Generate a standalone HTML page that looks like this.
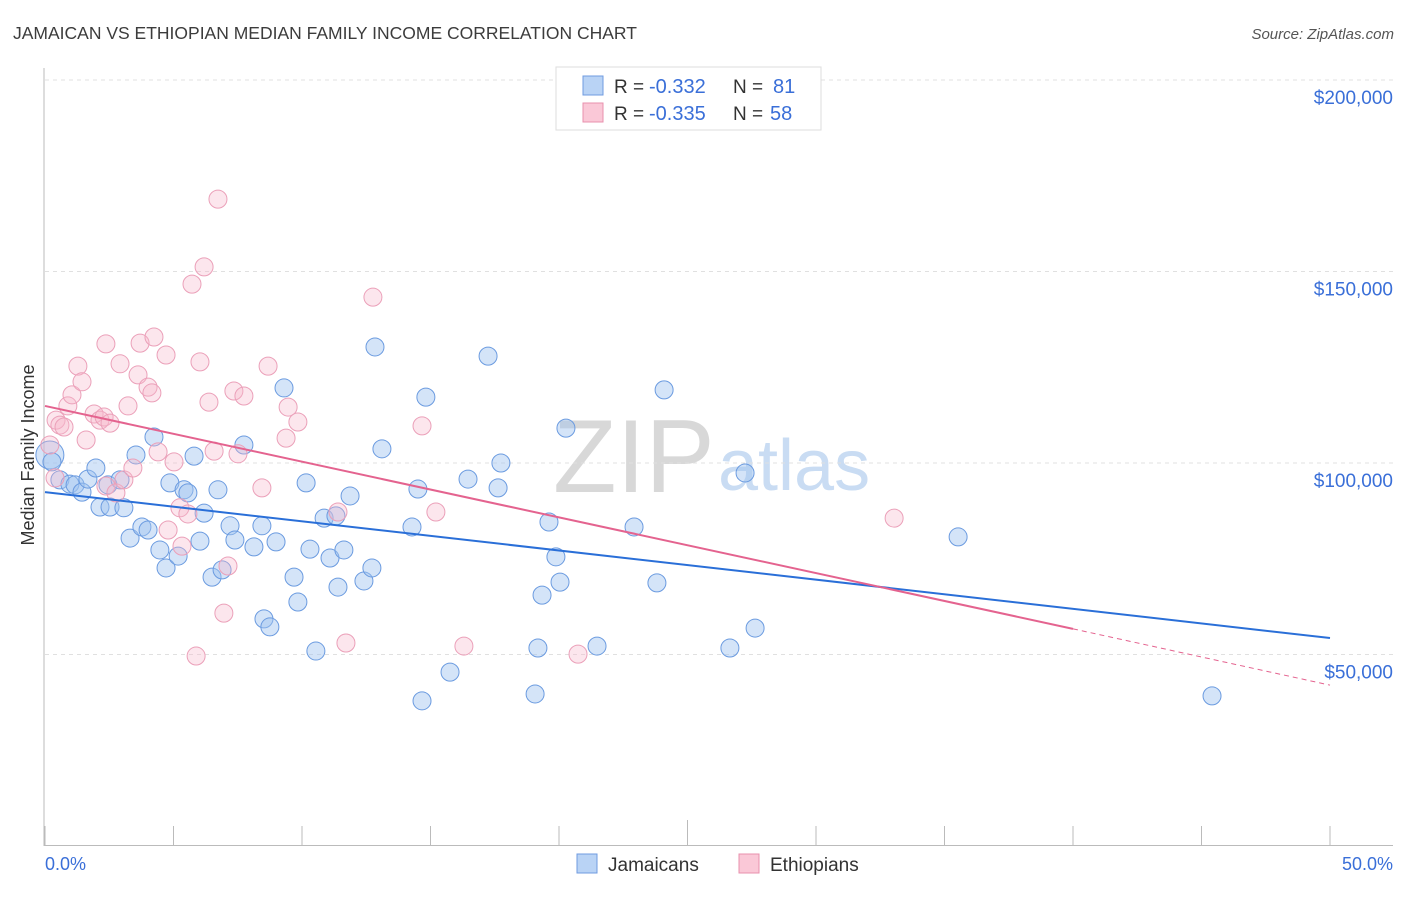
<!DOCTYPE html>
<html><head><meta charset="utf-8"><style>
body{margin:0;background:#fff;font-family:"Liberation Sans",sans-serif}
svg text{font-family:"Liberation Sans",sans-serif}
</style></head><body>
<svg id="c" width="1406" height="892" xmlns="http://www.w3.org/2000/svg">
<text x="13" y="39" font-size="17.5" fill="#3c3c3c">JAMAICAN VS ETHIOPIAN MEDIAN FAMILY INCOME CORRELATION CHART</text>
<text x="1394" y="39" font-size="15" fill="#555" text-anchor="end" font-style="italic">Source: ZipAtlas.com</text>
<text x="553" y="492" font-size="104" fill="#d8d8d8" font-family="Liberation Serif">ZIP</text>
<text x="718" y="490" font-size="72" fill="#c9dcf3">atlas</text>
<g id="grid"></g>
<g id="pts"></g>
<g id="trend"></g>
<text transform="translate(34,455) rotate(-90)" font-size="18" fill="#333" text-anchor="middle">Median Family Income</text>
<g>
<rect x="556" y="67" width="265" height="63" fill="#fff" stroke="#ddd"/>
<rect x="583" y="76" width="20" height="19" fill="#b9d3f5" stroke="#6f9be0"/>
<text x="614" y="93" font-size="19" fill="#333">R =</text>
<text x="649" y="93" font-size="20" fill="#3a6fd8">-0.332</text>
<text x="733" y="93" font-size="19" fill="#333">N =</text>
<text x="773" y="93" font-size="20" fill="#3a6fd8">81</text>
<rect x="583" y="103" width="20" height="19" fill="#fac8d7" stroke="#e890ae"/>
<text x="614" y="120" font-size="19" fill="#333">R =</text>
<text x="649" y="120" font-size="20" fill="#3a6fd8">-0.335</text>
<text x="733" y="120" font-size="19" fill="#333">N =</text>
<text x="770" y="120" font-size="20" fill="#3a6fd8">58</text>
</g>
<g>
<rect x="577" y="854" width="20" height="19" fill="#b9d3f5" stroke="#6f9be0"/>
<text x="608" y="871" font-size="19" fill="#333">Jamaicans</text>
<rect x="739" y="854" width="20" height="19" fill="#fac8d7" stroke="#e890ae"/>
<text x="770" y="871" font-size="19" fill="#333">Ethiopians</text>
</g>
<text x="45" y="870" font-size="18" fill="#3a6fd8">0.0%</text>
<text x="1393" y="870" font-size="18" fill="#3a6fd8" text-anchor="end">50.0%</text>
</svg>
<script>
const blueX=[0.19,0.27,0.58,0.97,1.17,1.44,1.67,1.98,2.14,2.45,2.53,2.92,3.07,3.31,3.54,3.77,4.01,4.24,4.47,4.71,4.86,5.18,5.41,5.56,5.80,6.03,6.19,6.50,6.73,6.89,7.20,7.39,7.74,8.13,8.44,8.52,8.75,8.99,9.30,9.69,9.84,10.16,10.31,10.54,10.86,11.09,11.32,11.40,11.63,11.87,12.41,12.72,12.84,13.11,14.28,14.51,14.67,14.82,15.76,16.46,17.24,17.63,17.74,19.07,19.34,19.61,19.18,19.88,20.04,20.27,21.48,22.92,23.81,24.09,26.65,27.24,27.63,35.53,45.41];
const blueY=[102.1,100.3,95.6,94.5,94.3,92.4,95.8,98.7,88.5,94.3,88.5,95.6,88.3,80.4,102.1,83.3,82.5,106.8,77.3,72.6,94.8,75.7,93.0,92.2,101.8,79.6,86.9,70.2,93.0,72.1,83.6,79.9,104.7,78.1,83.6,59.3,57.2,79.4,119.6,70.2,63.7,94.8,77.5,50.9,85.6,75.2,86.2,67.6,77.3,91.4,69.2,72.6,130.3,103.7,83.3,93.2,37.9,117.2,45.4,95.8,127.9,93.5,100.0,39.7,65.5,84.6,51.7,75.5,68.9,109.1,52.2,83.3,68.7,119.1,51.7,97.4,56.9,80.7,39.2];
const pinkX=[0.19,0.39,0.43,0.58,0.74,0.89,1.05,1.28,1.44,1.60,1.91,2.14,2.30,2.37,2.53,2.37,2.76,2.92,3.07,3.23,3.42,3.62,3.70,4.01,4.16,4.24,4.40,4.71,4.79,5.02,5.25,5.33,5.56,5.72,5.88,6.03,6.19,6.38,6.58,6.73,6.96,7.12,7.35,7.51,7.74,8.44,8.68,9.38,9.46,9.84,11.40,11.71,12.76,14.67,15.21,16.30,20.74,33.04];
const pinkY=[104.7,96.1,111.2,109.9,109.4,114.9,117.8,125.3,121.2,106.0,112.8,111.2,112.0,131.1,110.4,94.0,92.2,125.9,95.6,114.9,98.7,123.0,131.3,119.8,118.3,132.9,102.9,128.2,82.5,100.3,88.3,78.3,86.7,146.7,49.6,126.4,151.2,115.9,103.1,168.9,60.8,73.1,118.8,102.4,117.5,93.5,125.3,106.5,114.6,110.7,87.2,53.0,143.3,109.7,87.2,52.2,50.1,85.6];
const blueTrend=[92.4,54.3];
const pinkTrend=[114.9,56.7,42.0];
const yTicks=[50,100,150,200];
const yTickLabels=["$50,000","$100,000","$150,000","$200,000"];
const xTicks=[0,5,10,15,20,25,30,35,40,45,50];
const NS="http://www.w3.org/2000/svg";
const X=v=>45+v*25.7, Y=v=>846-v*3.83;
function mk(t,a,p){const e=document.createElementNS(NS,t);for(const k in a)e.setAttribute(k,a[k]);p.appendChild(e);return e;}
const grid=document.getElementById('grid');
const ax=mk('line',{x1:44,y1:68,x2:44,y2:846,stroke:'#bbb'},grid);


const bx=mk('line',{x1:44,y1:845.5,x2:1393,y2:845.5,stroke:'#bbb'},grid);


yTicks.forEach((t,i)=>{
 const g=mk('line',{x1:45,y1:Y(t),x2:1393,y2:Y(t),stroke:'#e0e0e0','stroke-dasharray':'4,4'},grid);
 
 
 const l=mk('text',{x:1393,y:Y(t)+24,'font-size':19,fill:'#3a6fd8','text-anchor':'end'},grid);
 l.textContent=yTickLabels[i];
 
 
});
xTicks.forEach((t,i)=>{
 const k=mk('line',{x1:X(t),y1:(t==25?820:826),x2:X(t),y2:846,stroke:'#bbb'},grid);
 
 
});
const pts=document.getElementById('pts');
blueX.forEach((x,i)=>{
 const c=mk('circle',{cx:X(x),cy:Y(blueY[i]),r:i==0?14:9,fill:'rgba(160,196,240,0.45)',stroke:'#6b9be0','stroke-width':1},pts);
 
 
});
pinkX.forEach((x,i)=>{
 const c=mk('circle',{cx:X(x),cy:Y(pinkY[i]),r:9,fill:'rgba(246,182,202,0.35)',stroke:'#eba0b9','stroke-width':1},pts);
 
 
});
const tr=document.getElementById('trend');
const bl=mk('line',{x1:X(0),y1:Y(blueTrend[0]),x2:X(50),y2:Y(blueTrend[1]),stroke:'#2a6fd8','stroke-width':2},tr);


const pl=mk('line',{x1:X(0),y1:Y(pinkTrend[0]),x2:X(40),y2:Y(pinkTrend[1]),stroke:'#e4638f','stroke-width':2},tr);


const pd=mk('line',{x1:X(40),y1:Y(pinkTrend[1]),x2:X(50),y2:Y(pinkTrend[2]),stroke:'#e4638f','stroke-width':1,'stroke-dasharray':'5,4'},tr);


</script>
</body></html>
